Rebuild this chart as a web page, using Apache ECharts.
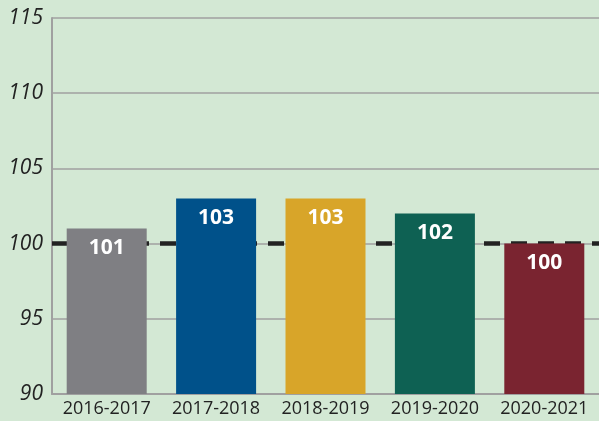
<!DOCTYPE html>
<html>
<head>
<meta charset="utf-8">
<script src="https://cdn.jsdelivr.net/npm/echarts@6/dist/echarts.min.js"></script>
<style>
html,body{margin:0;padding:0;background:#d3e8d4;}
#chart{width:599px;height:421px;}
</style>
</head>
<body>
<div id="chart"></div>
<script>
const categories = ['2016-2017','2017-2018','2018-2019','2019-2020','2020-2021'];
const values = [101, 103, 103, 102, 100];
const barColors = ['#7f7f83','#00518a','#d8a529','#0e6153','#7a2430'];
const referenceValue = 100;

const chart = echarts.init(document.getElementById('chart'), null, {renderer:'canvas'});
chart.setOption({
  backgroundColor: '#d3e8d4',
  animation: false,
  grid: {left: 52, right: -3, top: 18, bottom: 27, containLabel: false},
  xAxis: {
    type: 'category',
    data: categories,
    axisLine: {show: true, lineStyle: {color: '#a0a0a0', width: 2}},
    axisTick: {show: false},
    axisLabel: {interval: 0, color: '#222', fontFamily: 'Open Sans', fontSize: 18, margin: 6}
  },
  yAxis: {
    type: 'value',
    min: 90, max: 115, interval: 5,
    axisLine: {show: true, lineStyle: {color: '#a0a0a0', width: 2}},
    axisTick: {show: false},
    splitLine: {show: true, lineStyle: {color: '#a0a0a0', width: 1.5}},
    axisLabel: {
      margin: 9,
      formatter: v => '{i|' + v + '}',
      rich: {i: {color: '#222', fontFamily: 'Open Sans', fontStyle: 'italic', fontSize: 21}}
    }
  },
  series: [
    {
      type: 'line',
      data: [],
      z: 1,
      silent: true,
      markLine: {
        z: 1,
        symbol: 'none',
        silent: true,
        label: {show: false},
        lineStyle: {color: '#222', type: [16, 11], width: 4.5},
        data: [{yAxis: referenceValue}]
      }
    },
    {
      type: 'bar',
      z: 3,
      barWidth: 80,
      data: values.map((v, i) => ({value: v, itemStyle: {color: barColors[i]}})),
      label: {
        show: true,
        position: 'insideTop',
        distance: 9,
        color: '#fff',
        fontWeight: 'bold',
        fontFamily: 'Open Sans',
        fontSize: 21
      }
    }
  ]
});
</script>
</body>
</html>
